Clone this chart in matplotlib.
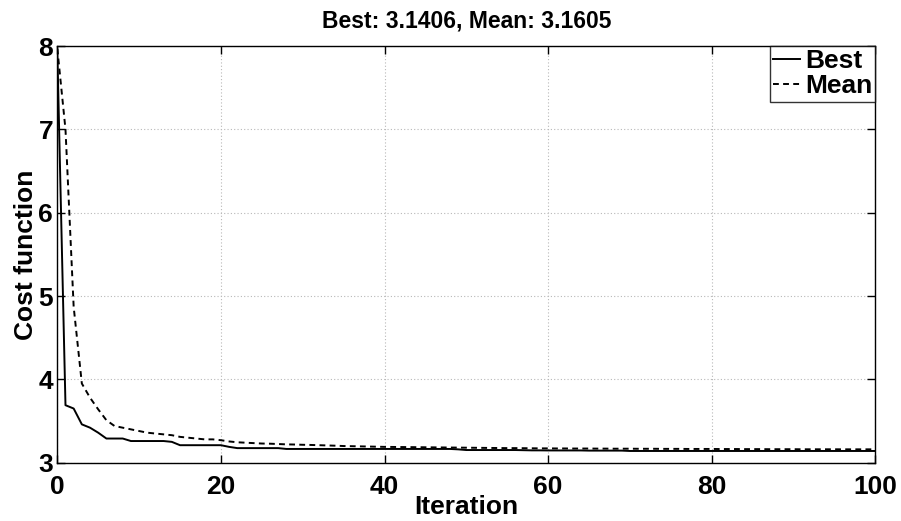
#!/usr/bin/env python3

import matplotlib
matplotlib.use("Agg")
import matplotlib.pyplot as plt

iterations = list(range(0, 101))

best_cost = [
    7.95, 3.69, 3.65, 3.46, 3.42, 3.36, 3.29, 3.29, 3.29, 3.26,
    3.26, 3.26, 3.26, 3.26, 3.25, 3.21, 3.21, 3.21, 3.21, 3.21,
    3.21, 3.19, 3.175, 3.175, 3.175, 3.175, 3.175, 3.175, 3.165, 3.165,
    3.165, 3.165, 3.165, 3.165, 3.165, 3.165, 3.165, 3.165, 3.165, 3.165,
    3.165, 3.165, 3.165, 3.165, 3.165, 3.165, 3.165, 3.165, 3.165, 3.16,
    3.152, 3.152, 3.152, 3.152, 3.152, 3.152, 3.152, 3.15, 3.148, 3.148,
    3.147, 3.147, 3.147, 3.147, 3.147, 3.145, 3.145, 3.145, 3.145, 3.145,
    3.1406, 3.1406, 3.1406, 3.1406, 3.1406, 3.1406, 3.1406, 3.1406, 3.1406, 3.1406,
    3.1406, 3.1406, 3.1406, 3.1406, 3.1406, 3.1406, 3.1406, 3.1406, 3.1406, 3.1406,
    3.1406, 3.1406, 3.1406, 3.1406, 3.1406, 3.1406, 3.1406, 3.1406, 3.1406, 3.1406,
    3.1406,
]

mean_cost = [
    7.97, 7.0, 4.87, 3.95, 3.78, 3.64, 3.51, 3.44, 3.42, 3.40,
    3.38, 3.36, 3.35, 3.34, 3.33, 3.31, 3.30, 3.29, 3.28, 3.28,
    3.27, 3.255, 3.245, 3.24, 3.235, 3.23, 3.228, 3.224, 3.22, 3.218,
    3.215, 3.213, 3.21, 3.207, 3.204, 3.20, 3.198, 3.196, 3.194, 3.192,
    3.19, 3.189, 3.188, 3.187, 3.186, 3.185, 3.184, 3.183, 3.182, 3.181,
    3.18, 3.179, 3.178, 3.177, 3.176, 3.175, 3.175, 3.174, 3.173, 3.172,
    3.172, 3.171, 3.171, 3.17, 3.17, 3.17, 3.169, 3.169, 3.168, 3.168,
    3.168, 3.167, 3.167, 3.167, 3.166, 3.166, 3.166, 3.165, 3.165, 3.165,
    3.165, 3.164, 3.164, 3.164, 3.163, 3.163, 3.163, 3.162, 3.162, 3.162,
    3.162, 3.161, 3.161, 3.161, 3.161, 3.161, 3.1605, 3.1605, 3.1605, 3.1605,
    3.1605,
]

x_ticks = [0, 20, 40, 60, 80, 100]
y_ticks = [3, 4, 5, 6, 7, 8]

plt.rcParams["font.family"] = ["Liberation Sans", "DejaVu Sans"]
plt.rcParams["font.weight"] = "bold"

fig = plt.figure(figsize=(9.01, 5.21), dpi=100)
ax = fig.add_axes([0.0636, 0.1119, 0.908, 0.7998])

ax.plot(iterations, best_cost, color="black", linestyle="-", linewidth=1.4, label="Best")
ax.plot(iterations, mean_cost, color="black", linestyle=(0, (3.0, 2.2)), linewidth=1.4, label="Mean")

ax.set_xlim(0, 100)
ax.set_ylim(3, 8)
ax.set_xticks(x_ticks)
ax.set_yticks(y_ticks)
ax.tick_params(direction="in", length=6, width=1, labelsize=19, top=True, right=True)
ax.tick_params(axis="x", pad=9)
ax.tick_params(axis="y", pad=3)
for lbl in ax.get_xticklabels() + ax.get_yticklabels():
    lbl.set_fontweight("bold")

ax.grid(True, color="#b8b8b8", linestyle=(0, (1, 2)), linewidth=0.8)
for sp in ax.spines.values():
    sp.set_linewidth(1.0)

ax.set_title("Best: 3.1406, Mean: 3.1605", fontsize=16.5, fontweight="bold", pad=13)
ax.set_xlabel("Iteration", fontsize=19, fontweight="bold", labelpad=-3)
ax.set_ylabel("Cost function", fontsize=19, fontweight="bold", labelpad=0)

leg = ax.legend(loc="upper right", fontsize=19, frameon=True, fancybox=False,
                edgecolor="black", borderaxespad=0, handlelength=1.0,
                handletextpad=0.2, borderpad=0.12, labelspacing=0.05)
leg.get_frame().set_linewidth(1.0)
for t in leg.get_texts():
    t.set_fontweight("bold")

fig.savefig("out.png", dpi=100)
